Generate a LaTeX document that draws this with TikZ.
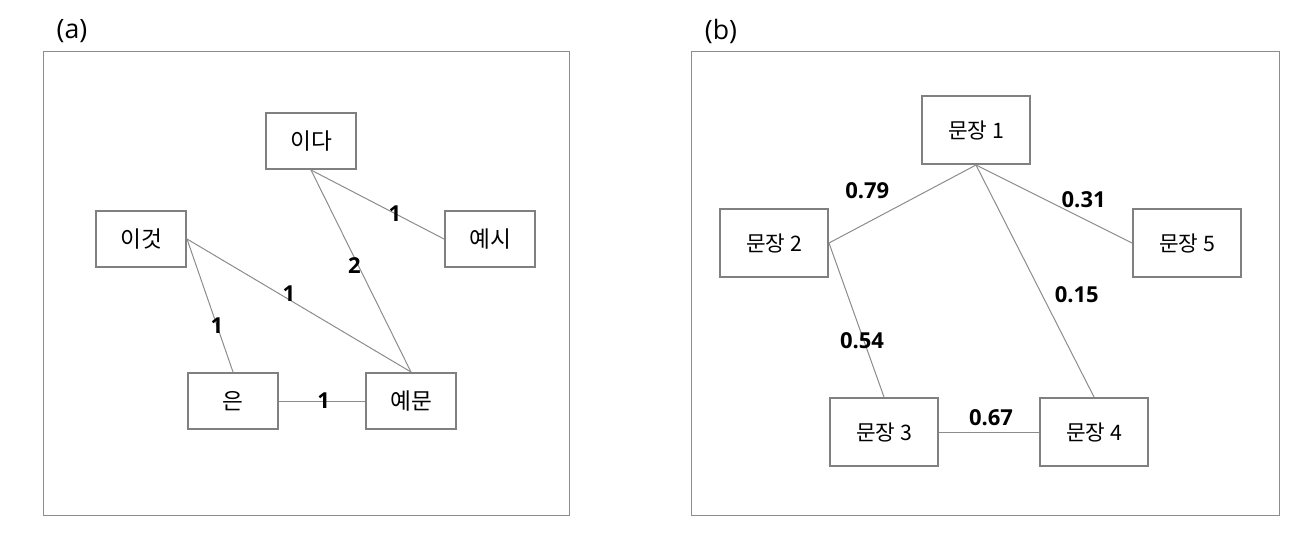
\documentclass[tikz,border=0pt]{standalone}
\usepackage{fontspec}
\setmainfont{Open Sans}
\newfontfamily\krfont{Noto Sans CJK KR}
\usetikzlibrary{positioning}
\definecolor{boxgray}{RGB}{128,128,128}
\definecolor{linegray}{RGB}{140,140,140}
\tikzset{
  word/.style={rectangle, draw=boxgray, line width=1.5pt, minimum width=67.5pt, minimum height=42pt, font=\krfont\fontsize{17pt}{20pt}\selectfont},
  sent/.style={word, minimum width=81pt, minimum height=51pt, font=\krfont\fontsize{16pt}{19pt}\selectfont},
  connect/.style={draw=linegray, line width=0.75pt},
  weight/.style={font=\bfseries\fontsize{16.5pt}{19pt}\selectfont, inner sep=0pt},
  panel/.style={draw=linegray, line width=0.75pt},
  tag/.style={font=\fontsize{20pt}{24pt}\selectfont}
}

\begin{document}
\begin{tikzpicture}[x=0.75pt, y=-0.75pt]
    \useasboundingbox (0,0) rectangle (1314,535);

    % panel (a): word graph
    \node[tag] (TagA) at (72,31) {(a)};
    \draw[panel] (43,52) rectangle (569,515);
    \node[word] (Ida) at (311,141) {이다};
    \node[word] (Yesi) at (490,239) {예시};
    \node[word] (Igeot) at (141,239) {이것};
    \node[word] (Eun) at (233,401) {은};
    \node[word] (Yemun) at (411,401) {예문};
    \path (Ida.south) edge [connect] node[weight, pos=0.63] {1} (Yesi.west)
          (Ida.south) edge [connect] node[weight, pos=0.475, xshift=-3pt] {2} (Yemun.north)
          (Igeot.east) edge [connect] node[weight, pos=0.455, yshift=4.5pt] {1} (Yemun.north)
          (Igeot.east) edge [connect] node[weight, pos=0.65] {1} (Eun.north)
          (Eun.east) edge [connect] node[weight, pos=0.52] {1} (Yemun.west);

    % panel (b): sentence graph
    \node[tag] (TagB) at (721,31) {(b)};
    \draw[panel] (691,52) rectangle (1279,515);
    \node[sent] (S1) at (976,130) {문장 1};
    \node[sent] (S2) at (774,243) {문장 2};
    \node[sent] (S5) at (1187,243) {문장 5};
    \node[sent] (S3) at (884,432) {문장 3};
    \node[sent] (S4) at (1094,432) {문장 4};
    \path (S1.south) edge [connect] node[weight, pos=0.74, yshift=24pt] {0.79} (S2.east)
          (S1.south) edge [connect] node[weight, pos=0.69, yshift=14pt] {0.31} (S5.west)
          (S1.south) edge [connect] node[weight, pos=0.56, xshift=26pt] {0.15} (S4.north)
          (S2.east) edge [connect] node[weight, pos=0.636, xshift=-1.5pt] {0.54} (S3.north)
          (S3.east) edge [connect] node[weight, pos=0.52, yshift=11pt] {0.67} (S4.west);
\end{tikzpicture}
\end{document}
